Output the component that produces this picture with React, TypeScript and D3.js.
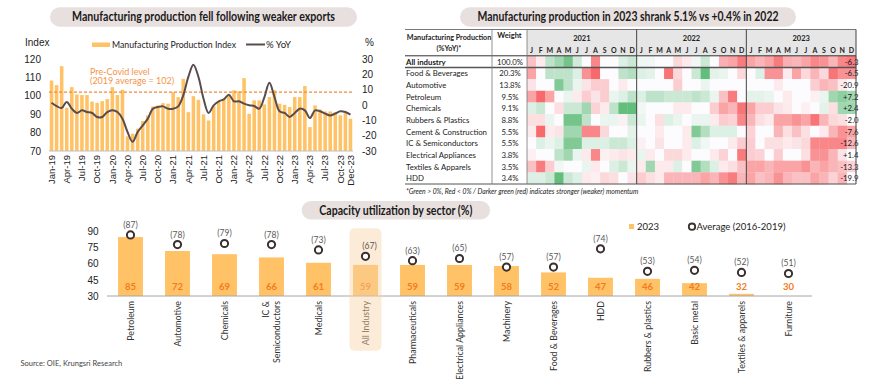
import React from 'react';
import * as d3 from 'd3';

// ---------- Top-left chart data ----------
const mpiIndex = [
  108.3, 105.8, 116.1, 93.5, 104.7, 100.7, 100.4, 100.4, 96.9, 96.2, 97.1, 98.2,
  104.7, 100.4, 103.3, 78.0, 79.4, 82.1, 86.3, 89.4, 94.2, 94.8, 96.0, 95.7,
  102.0, 99.3, 109.2, 91.1, 99.8, 97.8, 89.9, 86.6, 94.4, 96.6, 98.4, 100.2,
  103.0, 102.5, 109.6, 90.2, 97.5, 97.5, 95.3, 99.3, 103.0, 95.7, 95.1, 93.9,
  99.3, 99.3, 105.3, 83.0, 94.8, 92.6, 91.5, 91.5, 91.2, 89.4, 90.6, 87.5,
];
const yoyPct = [
  1.5, -0.7, -2.0, 2.0, -2.4, -5.2, -3.5, -4.6, -5.2, -7.8, -7.8, -4.6,
  -3.5, -4.6, -8.9, -17.6, -24.0, -17.6, -13.3, -8.9, -2.4, -1.3, -0.9, -2.4,
  -2.4, -0.9, 6.3, 18.3, 26.3, 18.3, 4.1, -5.2, -0.2, 2.4, 3.7, 6.7,
  2.4, 2.4, 0.9, -0.2, -0.7, -2.4, 5.0, 14.5, 5.2, -4.1, -5.2, -7.8,
  -5.2, -2.4, -3.5, -8.5, -3.5, -4.1, -5.6, -6.8, -5.6, -4.1, -4.6, -6.3,
];
const monthLabels = d3.timeMonths(new Date(2019, 0, 1), new Date(2024, 0, 1)).map(d3.timeFormat('%b-%y'));
const xTickIdx = [0, 3, 6, 9, 12, 15, 18, 21, 24, 27, 30, 33, 36, 39, 42, 45, 48, 51, 54, 57, 59];
const leftTicks = [70, 80, 90, 100, 110, 120];
const rightTicks = [-30, -20, -10, 0, 10, 20, 30];
const preCovidLevel = 102;

// ---------- Heatmap data ----------
const heatYears = ['2021', '2022', '2023'];
const heatMonths = ['J', 'F', 'M', 'A', 'M', 'J', 'J', 'A', 'S', 'O', 'N', 'D'];
const heatLabels = ['All industry', 'Food & Beverages', 'Automotive', 'Petroleum', 'Chemicals', 'Rubbers & Plastics',
  'Cement & Construction', 'IC & Semiconductors', 'Electrical Appliances', 'Textiles & Apparels', 'HDD'];
const heatWeights = ['100.0%', '20.3%', '13.8%', '9.5%', '9.1%', '8.8%', '5.5%', '5.5%', '3.8%', '3.5%', '3.4%'];
const heat2023Yoy = ['-6.3', '-6.5', '-20.9', '+7.2', '+2.4', '-2.0', '-7.6', '-12.6', '+1.4', '-13.3', '-19.9'];
const hAll = [-1, -0.3, 1, 1.5, 2.2, 0.7, 0, -2, 0, 0, 0.5, 0.8, 0.2, 0.2, 0, 0, -0.6, -0.3, 0.2, 0.8, 0, -1.3, -1.5, -2.2, -1.5, -1.2, -1.5, -2.2, -1.3, -1.2, -1.5, -2, -1.8, -1.2, -2, -2.2];
const hFnb = [-1.5, 0, 1, 1, 1, 0.5, -1.8, -2.5, 0, 0, 1, 1.2, 0.5, 0.4, 0, -2.3, -0.6, 0, 0.8, 2.5, 0.4, 0.3, 0, -0.6, 0, 0.5, -1.8, -1.8, -0.3, -1.5, -0.6, -1.2, -0.6, -2.3, -1.8, -1.8];
const hAuto = [-0.4, 0, 0, 2, 1, 0.3, -0.4, -0.8, -0.8, 0, -0.3, 0, 0, 0, 0, 0, -0.8, 0, 0, 0.3, 0, 0, 0, 0, 0, 0, 0, -0.3, 0, 0, 0, -0.8, -1.2, -1, -0.3, 0];
const hPetro = [-1.5, -2.5, -1.5, 0, 0.3, -0.3, -0.8, -0.4, -0.8, 0.3, 0.5, 1, 0.5, 1, 1, 0.8, 0.8, 0.8, 1, 0.8, 0.3, -1, -2.2, 0, 0.4, 0.4, 0.3, 0, -0.3, 0, 0, -0.2, 0.3, 1.5, 1.8, 1.5];
const hChem = [0.5, 0.8, 0, -0.5, 0.8, 0.8, 1.5, -0.7, -0.3, 1, 2.5, 2.5, 0.2, 0, 0, 0, -0.3, -0.3, 0, 0, -0.8, -1.5, -1.2, -2.3, -1.5, -0.8, -0.8, -0.4, -0.3, 0, -0.2, 0, 0.4, -0.5, 1.5, 1.5];
const hRubber = [-0.5, -0.5, 0.3, 0, 2.2, 2.2, 1, 0, 0.3, 0.3, -0.2, 0.8, 0.3, 0, -0.5, 0.5, 0.3, 0, 0.3, 0.3, -0.3, -0.8, -0.7, -2, -1.2, -0.5, -0.3, -1.5, -1.5, -1.8, -1.5, -2.3, -1.2, -0.6, -0.5, 0];
const hCement = [-0.3, -2.5, -0.3, -0.4, 1.5, 1.5, -2, -2, -0.6, 0, 0, 0.4, 0, 0, -0.3, 0, 0, -0.3, 2, 1.2, 0.5, 0.5, 0.5, 0, -0.7, 0, 0, -1.2, -0.5, -1, -0.5, 0, -0.3, -1.2, -1.8, -1.5];
const hIc = [0, 0.5, 0.3, 0.5, 2, 2, 0.5, 0.5, 0.5, 0.8, 0.8, 0.5, -0.2, 0, -0.4, 0, 0, -0.3, 0.5, 0.2, 0, 0, -0.3, -0.8, -0.8, 0, -0.5, -0.5, -0.3, -0.4, -0.6, -2, -2, -2, -2, -1.2];
const hElec = [-0.2, 0, 0, 1, 1.5, 0.3, -0.3, -2, -0.2, -0.3, -0.4, -0.3, 0.3, -0.3, 0, -0.6, -0.6, -0.3, 0, 0, -0.3, -0.7, 0, -2.2, -0.8, -0.7, 0, -0.8, 0, 0, -0.5, -1.8, -1.8, -1.2, -0.4, 0];
const hTextile = [-1, -2.2, -0.8, 0.2, 0, 0, 0.3, -0.3, 0, 0.5, 0.8, 0.3, -0.3, 1.5, -0.3, -0.3, 0.5, 0, 2, 1.2, 0.5, -0.3, -0.5, -1, -1.5, -1.5, -1.2, -1.5, -1.5, -1.5, -1.8, -1.2, -1.5, -1.2, -1, -0.7];
const hHdd = [0.5, 0.5, 0.8, 2.5, 0.8, 0.5, -0.3, -0.2, -0.6, -0.5, 0, -0.4, -0.8, -0.5, -0.3, -1.2, -1.2, -1.2, -1.2, -1.5, -1.2, -1.8, -2.2, -1.2, -1.5, -1, -1.2, -1.8, -1.2, -1, -1, -1.5, -1.2, -0.7, -1.2, 0];
const heatValues = [hAll, hFnb, hAuto, hPetro, hChem, hRubber, hCement, hIc, hElec, hTextile, hHdd];

// ---------- Capacity utilization data ----------
const sectors = ['Petroleum', 'Automotive', 'Chemicals', 'IC &\nSemiconductors', 'Medicals', 'All Industry', 'Pharmaceuticals',
  'Electrical Appliances', 'Machinery', 'Food & Beverages', 'HDD', 'Rubbers & plastics', 'Basic metal', 'Textiles & apparels', 'Furniture'];
const cu2023 = [85, 72, 69, 66, 61, 59, 59, 59, 58, 52, 47, 46, 42, 32, 30];
const cuAvg = [87, 78, 79, 78, 73, 67, 63, 65, 57, 57, 74, 53, 54, 52, 51];
const cuTicks = [30, 45, 60, 75, 90];

const FC = "Lato, 'Open Sans', sans-serif";
const FA = "'Liberation Sans', Arial, sans-serif";
const BAR = '#FFC266';
const PILL = '#E8E0DF';

function Pill({ x, y, w, h, text, tl }: { x: number; y: number; w: number; h: number; text: string; tl: number }) {
  return (
    <g>
      <rect x={x} y={y} width={w} height={h} rx={h / 2} fill={PILL} />
      <text x={x + w / 2} y={y + h / 2 + 4.3} textAnchor="middle" fontFamily={FC} fontWeight="bold" fontSize={12.5}
        fill="#1a1a1a" textLength={tl} lengthAdjust="spacingAndGlyphs">{text}</text>
    </g>
  );
}

export default function App() {
  // top-left
  const x = d3.scaleBand<number>().domain(d3.range(60)).range([49, 353]).paddingInner(0.3).paddingOuter(0.15);
  const yL = d3.scaleLinear().domain([70, 120]).range([151, 59]);
  const yR = d3.scaleLinear().domain([-30, 30]).range([151, 59]);
  const bw = x.bandwidth();
  const line = d3.line<number>().x((_, i) => (x(i) as number) + bw / 2).y(v => yR(v)).curve(d3.curveCatmullRom.alpha(0.5));

  // heatmap
  const colX = d3.scaleBand<number>().domain(d3.range(36)).range([527, 856]);
  const rowY = d3.scaleBand<string>().domain(heatLabels).range([55.8, 184]);
  const cw = colX.bandwidth();
  const rh = rowY.bandwidth();
  const color = d3.scaleLinear<string>().domain([-2.5, 0, 2.5]).range(['#F8696B', '#FCFCFF', '#63BE7B']).clamp(true);

  // bottom
  const xb = d3.scaleBand<string>().domain(sectors).range([107, 812]).paddingInner(0.47).paddingOuter(0.235);
  const yb = d3.scaleLinear().domain([30, 90]).range([296, 231.7]);
  const bbw = xb.bandwidth();
  const allX = xb('All Industry') as number;

  return (
    <svg width={870} height={379} style={{ position: 'absolute', left: 0, top: 0, background: '#fff' }}>
      {/* ---------------- Top-left chart ---------------- */}
      <Pill x={50} y={7.3} w={307} h={19.4} tl={263} text="Manufacturing production fell following weaker exports" />
      <text x={25} y={46} fontFamily={FA} fontSize={10} fill="#222">Index</text>
      <text x={365} y={46} fontFamily={FA} fontSize={10} fill="#222">%</text>
      <rect x={92} y={42.5} width={18} height={4.5} fill={BAR} />
      <text x={112} y={48} fontFamily={FC} fontSize={10} fill="#222" textLength={124} lengthAdjust="spacingAndGlyphs">Manufacturing Production Index</text>
      <line x1={246} x2={265} y1={44.5} y2={44.5} stroke="#594C4C" strokeWidth={2} />
      <text x={266} y={48} fontFamily={FC} fontSize={10} fill="#222" textLength={25} lengthAdjust="spacingAndGlyphs">% YoY</text>
      {leftTicks.map(t => (
        <text key={'l' + t} x={41} y={yL(t) + 3.6} textAnchor="end" fontFamily={FA} fontSize={10} fill="#222">{t}</text>
      ))}
      {rightTicks.map(t => (
        <text key={'r' + t} x={362} y={yR(t) + 3.6} fontFamily={FA} fontSize={10} fill="#222">{t}</text>
      ))}
      {mpiIndex.map((v, i) => (
        <rect key={'b' + i} x={x(i)} y={yL(v)} width={bw} height={151 - yL(v)} fill={BAR} />
      ))}
      <line x1={49} x2={353} y1={151} y2={151} stroke="#BFBFBF" strokeWidth={1} />
      <line x1={49} x2={353} y1={yL(preCovidLevel)} y2={yL(preCovidLevel)} stroke="#F28A3A" strokeWidth={1.1} strokeDasharray="3,2" />
      <text x={90} y={74.5} fontFamily={FC} fontSize={9} fill="#F5944A">Pre-Covid level</text>
      <text x={90} y={84} fontFamily={FC} fontSize={9} fill="#F5944A">(2019 average = 102)</text>
      <path d={line(yoyPct) || ''} fill="none" stroke="#594C4C" strokeWidth={2} />
      {xTickIdx.map(i => (
        <text key={'xt' + i} transform={`translate(${(x(i) as number) + bw / 2 + 3.3},155) rotate(-90)`} textAnchor="end"
          fontFamily={FA} fontSize={9.5} fill="#222">{monthLabels[i]}</text>
      ))}

      {/* ---------------- Heatmap table ---------------- */}
      <Pill x={460} y={7.3} w={336} h={19.4} tl={301} text="Manufacturing production in 2023 shrank 5.1% vs +0.4% in 2022" />
      <rect x={527} y={29.5} width={329} height={26.3} fill="#E7E6E6" />
      {heatYears.map((yr, k) => (
        <text key={yr} x={(colX(k * 12) as number) + cw * 6} y={41} textAnchor="middle" fontFamily={FC} fontWeight="bold" fontSize={7.5} fill="#222">{yr}</text>
      ))}
      {d3.range(36).map(j => (
        <text key={'m' + j} x={(colX(j) as number) + cw / 2} y={52.5} textAnchor="middle" fontFamily={FC} fontWeight="bold" fontSize={7} fill="#222">{heatMonths[j % 12]}</text>
      ))}
      <text x={449} y={39.5} textAnchor="middle" fontFamily={FC} fontWeight="bold" fontSize={7.2} fill="#222">Manufacturing Production</text>
      <text x={449} y={50.5} textAnchor="middle" fontFamily={FC} fontWeight="bold" fontSize={7.2} fill="#222">(%YoY)*</text>
      <text x={509.5} y={38} textAnchor="middle" fontFamily={FC} fontWeight="bold" fontSize={7.5} fill="#222">Weight</text>
      {heatValues.map((row, r) => row.map((v, j) => (
        <rect key={`c${r}-${j}`} x={colX(j)} y={rowY(heatLabels[r])} width={cw + 0.3} height={rh + 0.3} fill={color(v)} />
      )))}
      {heatLabels.map((lab, r) => {
        const cy = (rowY(lab) as number) + rh / 2 + 3;
        return (
          <g key={'hl' + r}>
            <text x={406} y={cy} fontFamily={FC} fontWeight={r === 0 ? 'bold' : 'normal'} fontSize={7.8} fill="#1a1a1a">{lab}</text>
            <text x={510} y={cy} textAnchor="middle" fontFamily={FC} fontSize={7.8} fill="#1a1a1a">{heatWeights[r]}</text>
            <text x={858.5} y={cy} textAnchor="end" fontFamily={FC} fontSize={7.8} fill="#1a1a1a">{heat2023Yoy[r]}</text>
          </g>
        );
      })}
      <line x1={405} x2={856} y1={29.5} y2={29.5} stroke="#555" strokeWidth={0.8} />
      <line x1={405} x2={856} y1={55.8} y2={55.8} stroke="#333" strokeWidth={1} />
      <line x1={405} x2={856} y1={(rowY(heatLabels[1]) as number)} y2={(rowY(heatLabels[1]) as number)} stroke="#555" strokeWidth={1.4} />
      <line x1={405} x2={856} y1={184} y2={184} stroke="#555" strokeWidth={1} />
      {[492, 527, colX(12) as number, colX(24) as number, 856].map((lx, k) => (
        <line key={'v' + k} x1={lx} x2={lx} y1={29.5} y2={184} stroke={k < 2 ? '#777' : '#444'} strokeWidth={k < 2 ? 0.8 : 1} />
      ))}
      <text x={406} y={193.5} fontFamily={FC} fontStyle="italic" fontSize={6.8} fill="#222">*Green &gt; 0%, Red &lt; 0% / Darker green (red) indicates stronger (weaker) momentum</text>

      {/* ---------------- Capacity utilization ---------------- */}
      <Pill x={301.7} y={201} w={188.3} h={18.5} tl={153} text="Capacity utilization by sector (%)" />
      <rect x={629} y={224} width={5} height={5} fill={BAR} />
      <text x={637} y={229.8} fontFamily={FC} fontSize={9.5} fill="#222">2023</text>
      <circle cx={692} cy={226.7} r={3.2} fill="#fff" stroke="#3A3030" strokeWidth={1.8} />
      <text x={696.5} y={229.8} fontFamily={FC} fontSize={9.5} fill="#222">Average (2016-2019)</text>
      {cuTicks.map(t => (
        <text key={'cy' + t} x={98.5} y={yb(t) + 3.6} textAnchor="end" fontFamily={FA} fontSize={10} fill="#222">{t}</text>
      ))}
      {sectors.map((s, i) => {
        const bx = xb(s) as number;
        const cx = bx + bbw / 2;
        const lines = s.split('\n');
        return (
          <g key={'s' + i}>
            <rect x={bx} y={yb(cu2023[i])} width={bbw} height={296 - yb(cu2023[i])} fill={BAR} />
            <text x={cx} y={290} textAnchor="middle" fontFamily={FC} fontWeight="bold" fontSize={9.5} fill="#F47B20">{cu2023[i]}</text>
            {lines.map((ln, k) => (
              <text key={k} transform={`translate(${cx + 3 + (k - (lines.length - 1) / 2) * 11},301) rotate(-90)`} textAnchor="end"
                fontFamily={FC} fontSize={8.8} fill="#333">{ln}</text>
            ))}
          </g>
        );
      })}
      <line x1={107} x2={812} y1={296} y2={296} stroke="#A6A6A6" strokeWidth={1} />
      <rect x={allX - 3.5} y={228.3} width={bbw + 7} height={122.4} rx={5} fill="#F9D3A5" opacity={0.45} />
      {sectors.map((s, i) => {
        const cx = (xb(s) as number) + bbw / 2;
        return (
          <g key={'a' + i}>
            <circle cx={cx} cy={yb(cuAvg[i])} r={3.6} fill="#fff" stroke="#3A3030" strokeWidth={2} />
            <text x={cx + (s === 'All Industry' ? 4 : 0)} y={yb(cuAvg[i]) - 7} textAnchor="middle" fontFamily={FC} fontSize={8.5} fill="#595959">({cuAvg[i]})</text>
          </g>
        );
      })}
      <text x={20.5} y={366} fontFamily={FC} fontSize={7.5} fill="#444">Source:  OIE, Krungsri Research</text>
    </svg>
  );
}
